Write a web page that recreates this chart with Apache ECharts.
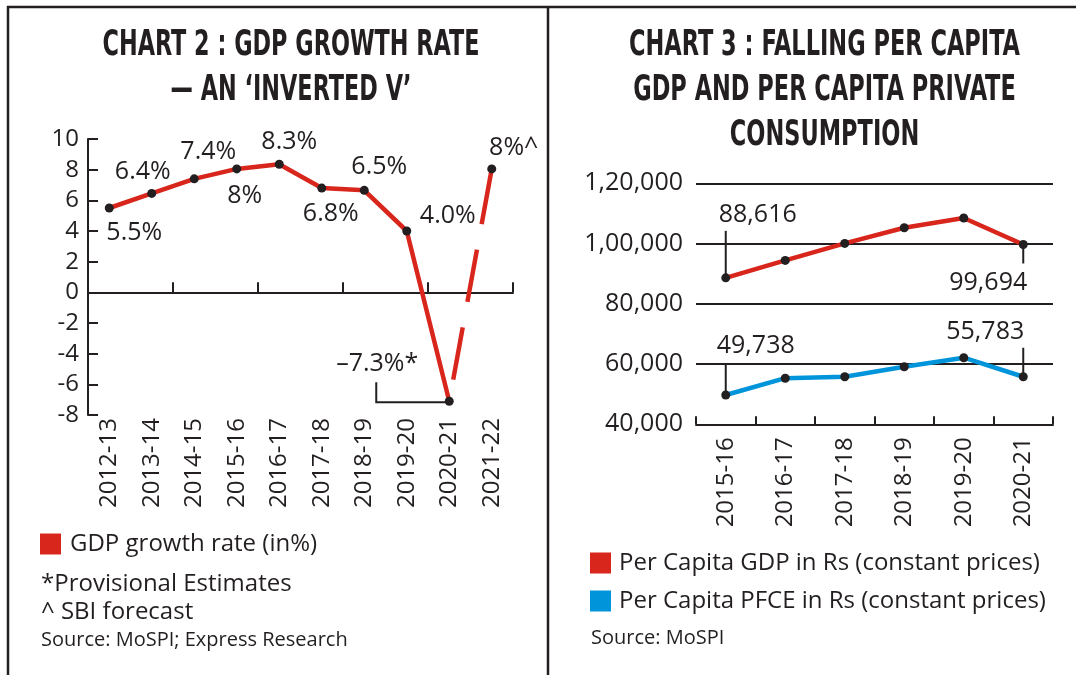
<!DOCTYPE html>
<html><head><meta charset="utf-8">
<script src="https://cdn.jsdelivr.net/npm/echarts@6/dist/echarts.min.js"></script>
<style>html,body{margin:0;padding:0;background:#fff}#c{width:1076px;height:675px}</style>
</head><body><div id="c"></div>
<script>
// ---------- DATA ----------
const growthYears = ['2012-13','2013-14','2014-15','2015-16','2016-17','2017-18','2018-19','2019-20','2020-21','2021-22'];
const growthRate = [5.5, 6.45, 7.4, 8.05, 8.35, 6.8, 6.65, 4.0, -7.1, 8.05];
const growthLabels = ['5.5%','6.4%','7.4%','8%','8.3%','6.8%','6.5%','4.0%','\u20137.3%*','8%^'];
const growthTicks = [-8, -6, -4, -2, 0, 2, 4, 6, 8, 10];

const pcYears = ['2015-16','2016-17','2017-18','2018-19','2019-20','2020-21'];
const perCapitaGDP = [88616, 94400, 100050, 105250, 108500, 99694];
const perCapitaPFCE = [49738, 55300, 55800, 59100, 62100, 55783];
const gdpLabels = ['88,616','','','','','99,694'];
const pfceLabels = ['49,738','','','','','55,783'];
const pcTickValues = [40000, 60000, 80000, 100000, 120000];
const pcTickLabels = ['40,000','60,000','80,000','1,00,000','1,20,000'];

const nameGrowth = 'GDP growth rate (in%)';
const nameGDP = 'Per Capita GDP in Rs (constant prices)';
const namePFCE = 'Per Capita PFCE in Rs (constant prices)';

// ---------- STYLE / LAYOUT ----------
const INK = '#231f20', RED = '#d9261c', BLUE = '#0095da';
const FONT = '"Open Sans", "Noto Sans", sans-serif';
const growthOffsets = [[25,25],[-9,-22],[14,-27],[8,27],[10,-22],[9,26],[15,-23],[41,-15],[-72,-37],[22,-21]];
const gdpOffsets = [[32,-63],null,null,null,null,[-35,38]];
const pfceOffsets = [[30,-49],null,null,null,null,[-38,-45]];

function lbl(text, off, size) {
  if (!text) return {show:false};
  return {show:true, position:'inside', formatter:text, offset:off, color:INK,
          fontFamily:FONT, fontSize:size, align:'center', verticalAlign:'middle'};
}

const lastIdx = growthRate.length - 1;
const solidData = growthRate.map((v,i) => i < lastIdx ? {value:v, label:lbl(growthLabels[i], growthOffsets[i], 25)} : null);
const dashData = growthRate.map((v,i) => {
  if (i === lastIdx - 1) return {value:v, symbol:'none'};
  if (i === lastIdx) return {value:v, label:lbl(growthLabels[i], growthOffsets[i], 25)};
  return null;
});
const gdpData = perCapitaGDP.map((v,i) => ({value:v, label:lbl(gdpLabels[i], gdpOffsets[i], 25)}));
const pfceData = perCapitaPFCE.map((v,i) => ({value:v, label:lbl(pfceLabels[i], pfceOffsets[i], 25)}));

const axisLabelStyle = {color:INK, fontFamily:FONT, fontSize:24};

const chart = echarts.init(document.getElementById('c'), null, {renderer:'canvas'});
const option = {
  animation:false,
  backgroundColor:'#fff',
  grid:[
    {left:88, top:139, width:425, height:276},
    {left:696, top:183.3, width:357, height:241}
  ],
  xAxis:[
    {type:'category', gridIndex:0, data:growthYears, position:'bottom', boundaryGap:true,
     axisLine:{show:true, onZero:true, lineStyle:{color:INK, width:2}},
     axisTick:{show:true, inside:true, length:10, lineStyle:{color:INK, width:2}},
     axisLabel:{show:false}, splitLine:{show:false}},
    {type:'category', gridIndex:0, data:growthYears, position:'bottom', boundaryGap:true,
     axisLine:{show:false, onZero:false}, axisTick:{show:false},
     axisLabel:Object.assign({rotate:90, margin:3, interval:0}, axisLabelStyle), splitLine:{show:false}},
    {type:'category', gridIndex:1, data:pcYears, position:'bottom', boundaryGap:true,
     axisLine:{show:true, onZero:false, lineStyle:{color:INK, width:2}},
     axisTick:{show:true, inside:true, length:8, lineStyle:{color:INK, width:2}},
     axisLabel:Object.assign({rotate:90, margin:13, interval:0}, axisLabelStyle), splitLine:{show:false}}
  ],
  yAxis:[
    {type:'value', gridIndex:0, min:growthTicks[0], max:growthTicks[growthTicks.length-1], interval:2,
     axisLine:{show:true, lineStyle:{color:INK, width:2}},
     axisTick:{show:true, inside:true, length:10, lineStyle:{color:INK, width:2}},
     axisLabel:Object.assign({margin:9}, axisLabelStyle), splitLine:{show:false}},
    {type:'value', gridIndex:1, min:pcTickValues[0], max:pcTickValues[pcTickValues.length-1], interval:20000,
     axisLine:{show:false}, axisTick:{show:false},
     axisLabel:Object.assign({margin:13, formatter:v => pcTickLabels[pcTickValues.indexOf(v)] || ''}, axisLabelStyle, {fontSize:25}),
     splitLine:{show:true, lineStyle:{color:INK, width:2}}}
  ],
  legend:[
    {left:40, top:532, padding:0, icon:'rect', itemWidth:21, itemHeight:21, selectedMode:false,
     textStyle:{color:INK, fontFamily:FONT, fontSize:24, padding:[0,0,0,4]},
     data:[{name:nameGrowth, itemStyle:{color:RED, borderWidth:0}}]},
    {left:590, top:551, padding:0, orient:'vertical', icon:'rect', itemWidth:21, itemHeight:21, itemGap:14, selectedMode:false,
     textStyle:{color:INK, fontFamily:FONT, fontSize:24, padding:[0,0,0,3]},
     data:[{name:nameGDP, itemStyle:{color:RED, borderWidth:0}},{name:namePFCE, itemStyle:{color:BLUE, borderWidth:0}}]}
  ],
  series:[
    {name:nameGrowth, type:'line', xAxisIndex:0, yAxisIndex:0, data:solidData, z:4,
     symbol:'circle', symbolSize:9, itemStyle:{color:INK},
     lineStyle:{color:RED, width:4.5}, connectNulls:false},
    {name:nameGrowth, type:'line', xAxisIndex:0, yAxisIndex:0, data:dashData, z:3,
     symbol:'circle', symbolSize:9, itemStyle:{color:INK},
     lineStyle:{color:RED, width:4.5, type:[53,26], dashOffset:57}, connectNulls:false},
    {name:nameGDP, type:'line', xAxisIndex:2, yAxisIndex:1, data:gdpData, z:4,
     symbol:'circle', symbolSize:9, itemStyle:{color:INK}, lineStyle:{color:RED, width:4.5}},
    {name:namePFCE, type:'line', xAxisIndex:2, yAxisIndex:1, data:pfceData, z:4,
     symbol:'circle', symbolSize:9, itemStyle:{color:INK}, lineStyle:{color:BLUE, width:4.5}}
  ]
};
chart.setOption(option);

// ---------- annotations (computed from library scales) ----------
const TFONT = '"Liberation Sans Narrow", "DejaVu Sans Condensed", "Liberation Sans", sans-serif';
const ctx = document.createElement('canvas').getContext('2d');
function measure(t, font) { ctx.font = font; return ctx.measureText(t).width; }
const titleFont = 'bold 35px ' + TFONT;
const leftTitle = ['CHART 2 : GDP GROWTH RATE', '\u2014 AN \u2018INVERTED V\u2019'];
const rightTitle = ['CHART 3 : FALLING PER CAPITA', 'GDP AND PER CAPITA PRIVATE', 'CONSUMPTION'];
const sL = 377 / measure(leftTitle[0], titleFont);
const sR = 391 / measure(rightTitle[0], titleFont);

const g = [];
function title(t, x, y, s) {
  g.push({type:'text', x:x, y:y, scaleX:s, scaleY:1, silent:true,
    style:{text:t, font:titleFont, fill:INK, textAlign:'center', textVerticalAlign:'bottom'}});
}
leftTitle.forEach((t,i) => title(t, 291, 63 + i*45, sL));
rightTitle.forEach((t,i) => title(t, 824.5, 63 + i*45, sR));

function note(t, x, y, size) {
  g.push({type:'text', x:x, y:y, silent:true,
    style:{text:t, font:size + 'px ' + FONT, fill:INK, textAlign:'left', textVerticalAlign:'middle'}});
}
note('*Provisional Estimates', 41, 584, 24);
note('^ SBI forecast', 41, 612, 24);
note('Source: MoSPI; Express Research', 41, 640, 20);
note('Source: MoSPI', 591, 638, 20);

// borders
const B = {stroke:INK, lineWidth:2.5};
g.push({type:'line', shape:{x1:7, y1:7, x2:1076, y2:7}, style:B, silent:true});
g.push({type:'line', shape:{x1:8, y1:6, x2:8, y2:675}, style:B, silent:true});
g.push({type:'line', shape:{x1:548, y1:6, x2:548, y2:675}, style:B, silent:true});

// leader lines
const LS = {stroke:INK, lineWidth:2, fill:null};
function vleader(cat, val, len) {
  const p = chart.convertToPixel({xAxisIndex:2, yAxisIndex:1}, [cat, val]);
  g.push({type:'line', z:1, shape:{x1:p[0], y1:p[1], x2:p[0], y2:p[1] + len}, style:LS, silent:true});
}
vleader(pcYears[0], perCapitaGDP[0], -47);
vleader(pcYears[5], perCapitaGDP[5], 19);
vleader(pcYears[0], perCapitaPFCE[0], -30);
vleader(pcYears[5], perCapitaPFCE[5], -29);
const pm = chart.convertToPixel({xAxisIndex:0, yAxisIndex:0}, [growthYears[8], growthRate[8]]);
g.push({type:'polyline', z:1, shape:{points:[[pm[0], pm[1]+1], [pm[0]-73, pm[1]+1], [pm[0]-73, pm[1]-19]]}, style:LS, silent:true});

chart.setOption({graphic:{elements:g}});
</script></body></html>
